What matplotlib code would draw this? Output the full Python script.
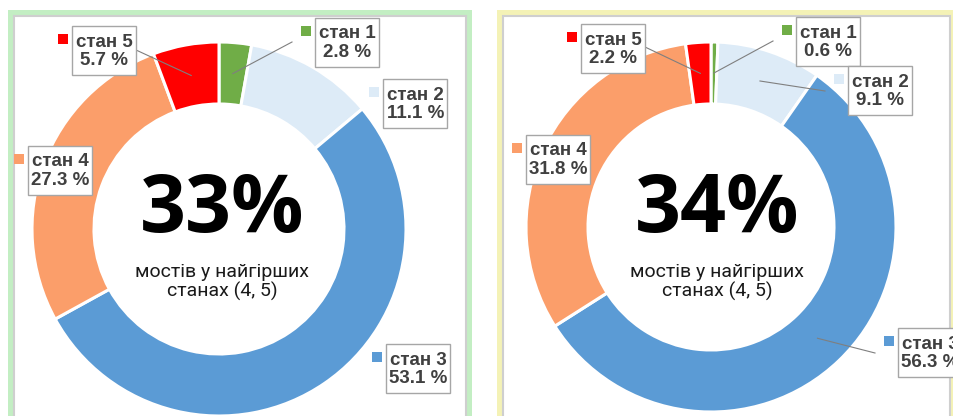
import matplotlib
matplotlib.use("Agg")
import matplotlib.pyplot as plt
from matplotlib.patches import Rectangle
import numpy as np

# figure size in pixels
W, H = 954, 416

# data
states = ["стан 1", "стан 2", "стан 3", "стан 4", "стан 5"]
share_left = [2.8, 11.1, 53.1, 27.3, 5.7]
share_right = [0.6, 9.1, 56.3, 31.8, 2.2]
worst_left = "33%"
worst_right = "34%"
caption = "мостів у найгірших\nстанах (4, 5)"

colors = ["#70AD47", "#DDEBF7", "#5B9BD5", "#FB9E6A", "#FF0000"]
text_gray = "#404040"
box_gray = "#a6a6a6"

# layout (pixel coords, y from top)
left_center, left_radius = (219, 229), 187
right_center, right_radius = (711, 227), 185
ring_width = 62
left_boxes = [(347, 42), (415.5, 103.5), (418.5, 368.5), (60, 170), (104, 50.5)]
right_boxes = [(828.5, 41.5), (880, 90.5), (930, 352.5), (558, 159), (613.5, 48.5)]
left_leaders = [(292, 42), None, None, None, (136, 50)]
right_leaders = [(773, 41), (825, 91), (875, 353), None, (645, 47)]
BOX_W, BOX_H = 64, 49


def px(x, y):
    # pixel (y down) -> data (y up)
    return x, H - y


fig = plt.figure(figsize=(W / 100, H / 100), dpi=100)
ax = fig.add_axes([0, 0, 1, 1])

# panel frames with a soft coloured border
ax.add_patch(Rectangle(px(8, 430), 464, 420, facecolor="#c3eec3", edgecolor="none", zorder=0))
ax.add_patch(Rectangle(px(14, 430), 452, 414, facecolor="white", edgecolor="#cfcfcf", lw=1.5, zorder=0))
ax.add_patch(Rectangle(px(497, 430), 480, 420, facecolor="#f4f2b6", edgecolor="none", zorder=0))
ax.add_patch(Rectangle(px(503, 430), 447, 414, facecolor="white", edgecolor="#cfcfcf", lw=1.5, zorder=0))


def donut(values, center, radius, boxes, leaders, big, cx_text):
    c = px(*center)
    wedges, _ = ax.pie(values, colors=colors, startangle=90, counterclock=False,
                       center=c, radius=radius,
                       wedgeprops=dict(width=ring_width, edgecolor="white", linewidth=2.2))
    for w in wedges:
        w.set_zorder(1)

    mid_r = radius - ring_width / 2
    for i, w in enumerate(wedges):
        bx, by = boxes[i]
        left, top = bx - BOX_W / 2, by - BOX_H / 2
        ax.add_patch(Rectangle(px(left, top + BOX_H), BOX_W, BOX_H, facecolor="white",
                               edgecolor=box_gray, lw=1, zorder=4))
        ax.add_patch(Rectangle(px(left - 14, top + 18), 10, 10, facecolor=colors[i],
                               edgecolor="none", zorder=4))
        ax.text(*px(bx, by + 1), "%s\n%.1f %%" % (states[i], values[i]), ha="center", va="center",
                fontsize=13.5, fontweight="bold", family="Liberation Sans", color=text_gray,
                linespacing=1.15, zorder=5)
        if leaders[i] is not None:
            ang = np.deg2rad((w.theta1 + w.theta2) / 2)
            ex = c[0] + mid_r * np.cos(ang)
            ey = c[1] + mid_r * np.sin(ang)
            sx, sy = px(*leaders[i])
            ax.plot([sx, ex], [sy, ey], color="#7f7f7f", lw=0.8, zorder=3)

    ax.text(*px(cx_text, 211), big, ha="center", va="center", fontsize=58,
            fontweight="bold", family="Open Sans", color="black", zorder=5)
    ax.text(*px(cx_text, 282), caption, ha="center", va="center", fontsize=14,
            family="Roboto", color="#1a1a1a", linespacing=1.1, zorder=5)


donut(share_left, left_center, left_radius, left_boxes, left_leaders, worst_left, 222)
donut(share_right, right_center, right_radius, right_boxes, right_leaders, worst_right, 717)

ax.set_xlim(0, W)
ax.set_ylim(0, H)
ax.set_aspect("auto")
ax.axis("off")

fig.savefig("out.png", dpi=100)
